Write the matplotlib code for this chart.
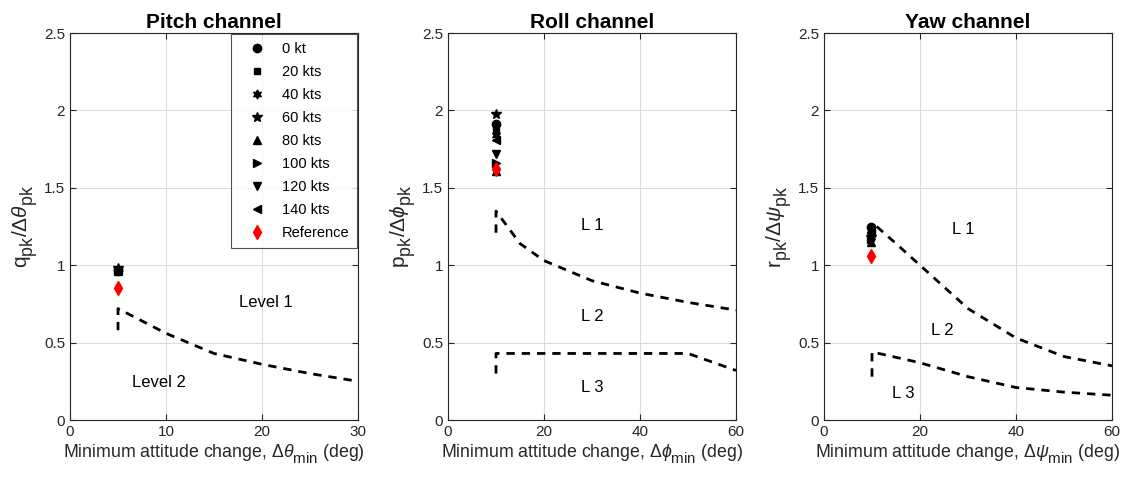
import matplotlib
matplotlib.use("Agg")
import matplotlib.pyplot as plt
import matplotlib._mathtext as _mt

# MATLAB-like larger, lower subscripts
_mt.SHRINK_FACTOR = 0.85
_mt.FontConstantsBase.sub1 = 0.6
_mt.FontConstantsBase.subdrop = 0.5

plt.rcParams['font.family'] = ['Liberation Sans', 'DejaVu Sans']
plt.rcParams['mathtext.fontset'] = 'custom'
plt.rcParams['mathtext.rm'] = 'Liberation Sans'
plt.rcParams['mathtext.it'] = 'Liberation Sans:italic'
plt.rcParams['mathtext.bf'] = 'Liberation Sans:bold'

# ---------------- data ----------------
speeds = ['0 kt', '20 kts', '40 kts', '60 kts', '80 kts', '100 kts', '120 kts', '140 kts']
markers = ['o', 's', (6, 1, 0), '*', '^', '>', 'v', '<']
msizes = [6, 4.5, 6.5, 7, 6, 6, 6, 6]

pitch_x = [5.0, 5.0, 5.0, 5.0, 5.0, 5.0, 5.0, 5.0]
pitch_y = [0.97, 0.97, 0.96, 0.98, 0.96, 0.97, 0.96, 0.97]
pitch_ref = (5.0, 0.85)

roll_x = [10.0, 10.0, 10.0, 10.0, 10.0, 10.0, 10.0, 10.0]
roll_y = [1.91, 1.87, 1.84, 1.98, 1.61, 1.66, 1.72, 1.81]
roll_ref = (10.0, 1.62)

yaw_x = [9.7, 9.7, 9.7, 9.7, 9.7, 9.7, 9.7, 9.7]
yaw_y = [1.25, 1.22, 1.20, 1.18, 1.15, 1.17, 1.19, 1.21]
yaw_ref = (9.7, 1.06)

pitch_b1_x = [5, 5, 10, 15, 20, 25, 30]
pitch_b1_y = [0.58, 0.72, 0.56, 0.43, 0.36, 0.30, 0.25]

roll_b1_x = [10, 10, 15, 20, 30, 40, 50, 60]
roll_b1_y = [1.21, 1.35, 1.14, 1.03, 0.90, 0.82, 0.76, 0.71]
roll_b2_x = [10, 10, 50, 60]
roll_b2_y = [0.30, 0.43, 0.43, 0.32]

yaw_b1_x = [11, 15, 20, 30, 40, 50, 60]
yaw_b1_y = [1.25, 1.14, 1.00, 0.72, 0.53, 0.41, 0.35]
yaw_b2_x = [10, 10, 20, 30, 40, 50, 60]
yaw_b2_y = [0.28, 0.44, 0.37, 0.28, 0.21, 0.18, 0.16]

titles = ['Pitch channel', 'Roll channel', 'Yaw channel']
ylabels = [r'q$_{\rm pk}$/$\Delta\it{\theta}_{\rm pk}$',
           r'p$_{\rm pk}$/$\Delta\it{\phi}_{\rm pk}$',
           r'r$_{\rm pk}$/$\Delta\it{\psi}_{\rm pk}$']
xlabels = [r'Minimum attitude change, $\Delta\it{\theta}_{\rm min}$ (deg)',
           r'Minimum attitude change, $\Delta\it{\phi}_{\rm min}$ (deg)',
           r'Minimum attitude change, $\Delta\it{\psi}_{\rm min}$ (deg)']
xlims = [30, 60, 60]
xticks = [[0, 10, 20, 30], [0, 20, 40, 60], [0, 20, 40, 60]]
yticks = [0, 0.5, 1, 1.5, 2, 2.5]

fig = plt.figure(figsize=(11.31, 4.8), dpi=100)
lefts = [70 / 1131, 448 / 1131, 824 / 1131]
axes = [fig.add_axes([l, 0.125, 288 / 1131, 0.806]) for l in lefts]

pts = [(pitch_x, pitch_y, pitch_ref), (roll_x, roll_y, roll_ref), (yaw_x, yaw_y, yaw_ref)]
bounds = [[(pitch_b1_x, pitch_b1_y)],
          [(roll_b1_x, roll_b1_y), (roll_b2_x, roll_b2_y)],
          [(yaw_b1_x, yaw_b1_y), (yaw_b2_x, yaw_b2_y)]]

dark = '#262626'
for i, ax in enumerate(axes):
    xs, ys, ref = pts[i]
    for bx, by in bounds[i]:
        ax.plot(bx, by, color='black', lw=2, dashes=(3, 2.5))
    for j in range(len(speeds)):
        ax.plot(xs[j], ys[j], linestyle='none', marker=markers[j], ms=msizes[j],
                color='black', label=speeds[j])
    ax.plot(ref[0], ref[1], linestyle='none', marker='d', ms=7, color='red',
            label='Reference')
    ax.set_xlim(0, xlims[i])
    ax.set_ylim(0, 2.5)
    ax.set_xticks(xticks[i])
    ax.set_yticks(yticks)
    ax.set_yticklabels(['0', '0.5', '1', '1.5', '2', '2.5'])
    ax.grid(True, color='#dcdcdc', lw=0.8)
    ax.set_axisbelow(True)
    ax.tick_params(direction='in', top=True, right=True, labelsize=11,
                   colors=dark, length=4)
    for s in ax.spines.values():
        s.set_color(dark)
        s.set_linewidth(0.8)
    ax.set_title(titles[i], fontsize=15, fontweight='bold', pad=4)
    ax.set_xlabel(xlabels[i], fontsize=12.8, color=dark, labelpad=2)
    ax.set_ylabel(ylabels[i], fontsize=15, color=dark, labelpad=2)

axes[0].text(20.4, 0.76, 'Level 1', fontsize=12, ha='center', va='center')
axes[0].text(9.3, 0.24, 'Level 2', fontsize=12, ha='center', va='center')
axes[1].text(30, 1.26, 'L 1', fontsize=12, ha='center', va='center')
axes[1].text(30, 0.67, 'L 2', fontsize=12, ha='center', va='center')
axes[1].text(30, 0.21, 'L 3', fontsize=12, ha='center', va='center')
axes[2].text(29, 1.23, 'L 1', fontsize=12, ha='center', va='center')
axes[2].text(24.6, 0.58, 'L 2', fontsize=12, ha='center', va='center')
axes[2].text(16.5, 0.17, 'L 3', fontsize=12, ha='center', va='center')

leg = axes[0].legend(loc='upper right', fontsize=10.5, frameon=True, fancybox=False,
                     borderaxespad=0.05, handletextpad=0.5, labelspacing=0.62,
                     handlelength=2.4, borderpad=0.55)
leg.get_frame().set_edgecolor(dark)
leg.get_frame().set_linewidth(0.8)

fig.savefig('out.png', dpi=100)
